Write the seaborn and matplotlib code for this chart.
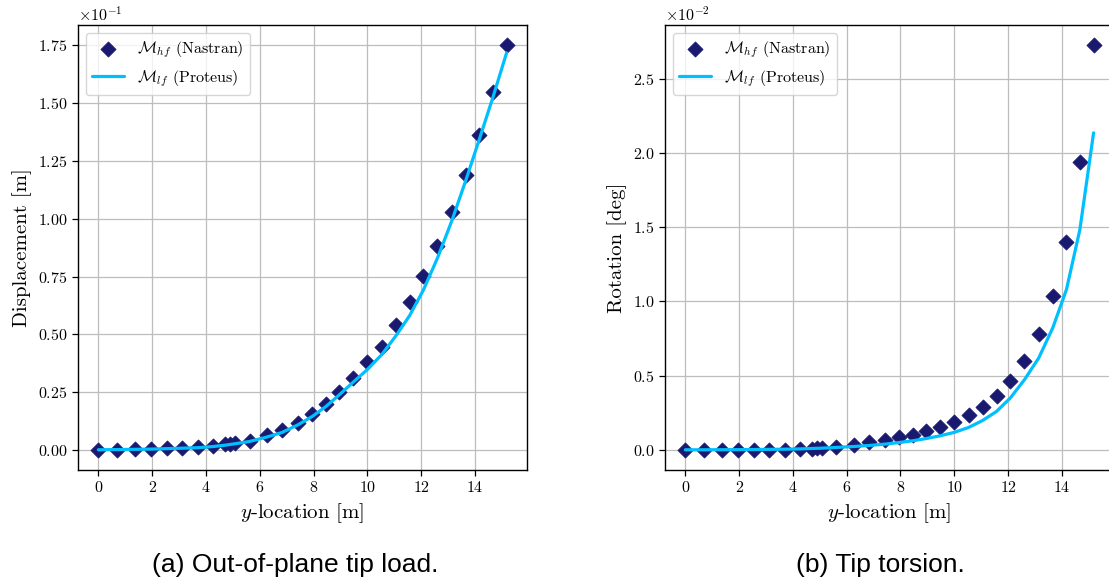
import matplotlib
matplotlib.use("Agg")
import matplotlib.pyplot as plt
import seaborn as sns

# spanwise stations (same for both load cases)
y_loc = [0, 0.68, 1.38, 1.96, 2.55, 3.12, 3.69, 4.26, 4.72, 4.90, 5.07, 5.62,
         6.26, 6.83, 7.42, 7.95, 8.47, 8.96, 9.47, 9.99, 10.53, 11.05, 11.57,
         12.08, 12.61, 13.14, 13.66, 14.17, 14.67, 15.18]

# (a) out-of-plane tip load, displacement [m]
disp_nastran = [0, 0.0001, 0.0002, 0.0004, 0.0006, 0.0008, 0.0012, 0.0017, 0.0025,
                0.0027, 0.0029, 0.0040, 0.0062, 0.0087, 0.0118, 0.0155, 0.0199,
                0.0248, 0.0310, 0.0378, 0.0447, 0.0538, 0.0638, 0.0751, 0.0880,
                0.1028, 0.1191, 0.1361, 0.1550, 0.1751]
disp_proteus = [0, 0.0001, 0.0002, 0.0003, 0.0005, 0.0007, 0.0009, 0.0014, 0.0020,
                0.0023, 0.0026, 0.0036, 0.0055, 0.0075, 0.0108, 0.0144, 0.0188,
                0.0238, 0.0292, 0.0346, 0.0411, 0.0491, 0.0580, 0.0690, 0.0830,
                0.0990, 0.1165, 0.1345, 0.1525, 0.1718]

# (b) tip torsion, rotation [deg]
rot_nastran = [0, 0, 0, 0, 0, 0, 0, 0.00004, 0.00007, 0.00009, 0.00011, 0.00022,
               0.00034, 0.00052, 0.00067, 0.00083, 0.00101, 0.00124, 0.00153,
               0.00189, 0.00231, 0.00288, 0.00364, 0.00465, 0.00595, 0.00779,
               0.01033, 0.01399, 0.01936, 0.02724]
rot_proteus = [0, 0, 0.000005, 0.00001, 0.00002, 0.00003, 0.00004, 0.00006,
               0.00009, 0.0001, 0.00011, 0.00016, 0.00022, 0.00029, 0.00038,
               0.00049, 0.00061, 0.00076, 0.00094, 0.00117, 0.0015, 0.00197,
               0.00258, 0.00348, 0.00472, 0.00618, 0.0082, 0.01078, 0.01482,
               0.02134]

MARKER_COLOR = "#191970"
LINE_COLOR = "#00BFFF"

sns.set_theme(style="ticks", rc={"text.color": "black", "axes.labelcolor": "black",
                                 "xtick.color": "black", "ytick.color": "black"})
plt.rcParams["font.family"] = ["cmr10", "DejaVu Serif"]
plt.rcParams["mathtext.fontset"] = "cm"
plt.rcParams["axes.formatter.use_mathtext"] = True
plt.rcParams["axes.unicode_minus"] = False


def draw_panel(ax, y_hf, y_lf, ylabel):
    sns.scatterplot(x=y_loc, y=y_hf, marker="D", s=60, color=MARKER_COLOR,
                    edgecolor=MARKER_COLOR, linewidth=0.5, ax=ax, zorder=3,
                    label=r"$\mathcal{M}_{hf}$ (Nastran)")
    sns.lineplot(x=y_loc, y=y_lf, color=LINE_COLOR, linewidth=2.3, ax=ax, zorder=4,
                 label=r"$\mathcal{M}_{lf}$ (Proteus)")
    ax.grid(True, color="#bdbdbd", linewidth=0.9)
    ax.set_axisbelow(True)
    for s in ax.spines.values():
        s.set_color("black")
        s.set_linewidth(1.0)
    ax.tick_params(labelsize=11.5, color="black", length=4, width=0.9)
    ax.ticklabel_format(style="sci", axis="y", scilimits=(0, 0))
    ax.yaxis.get_offset_text().set_fontsize(11.5)
    ax.set_xticks(range(0, 15, 2))
    ax.set_xlabel(r"$y$-location [m]", fontsize=15)
    ax.set_ylabel(ylabel, fontsize=15)
    handles, labels = ax.get_legend_handles_labels()
    order = [labels.index(l) for l in labels if "Nastran" in l] + \
            [labels.index(l) for l in labels if "Proteus" in l]
    ax.legend([handles[i] for i in order], [labels[i] for i in order],
              loc="upper left", fontsize=11.5, frameon=True, fancybox=True,
              edgecolor="0.8", framealpha=0.8)


fig = plt.figure(figsize=(11.09, 5.83), dpi=100)
ax1 = fig.add_axes([0.0703, 0.1938, 0.4049, 0.7633])
ax2 = fig.add_axes([0.5996, 0.1938, 0.4049, 0.7633])

draw_panel(ax1, disp_nastran, disp_proteus, "Displacement [m]")
draw_panel(ax2, rot_nastran, rot_proteus, "Rotation [deg]")

cap_font = ["Liberation Sans", "DejaVu Sans"]
fig.text(0.266, 0.031, "(a) Out-of-plane tip load.", ha="center", va="center",
         fontsize=19, family=cap_font, color="black")
fig.text(0.794, 0.031, "(b) Tip torsion.", ha="center", va="center",
         fontsize=19, family=cap_font, color="black")

fig.savefig("out.png", dpi=100)
